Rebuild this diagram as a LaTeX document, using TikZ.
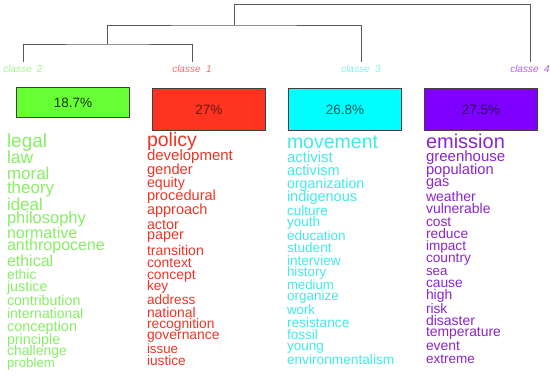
\documentclass[tikz,border=0pt]{standalone}
\usepackage{fontspec}
\setmainfont{Liberation Sans}
\newcommand\fsz[1]{\fontsize{#1}{#1}\selectfont}
\definecolor{wgreen}{HTML}{88EE66}
\definecolor{wred}{HTML}{EE3526}
\definecolor{wcyan}{HTML}{44EAEA}
\definecolor{wpurple}{HTML}{8A26CC}
\definecolor{lgreen}{HTML}{A8F090}
\definecolor{lred}{HTML}{F07070}
\definecolor{lcyan}{HTML}{80F0F0}
\definecolor{lpurple}{HTML}{B060EE}
\definecolor{bgreen}{HTML}{66FF33}
\definecolor{bred}{HTML}{FF3322}
\definecolor{bcyan}{HTML}{00FFFF}
\definecolor{bpurple}{HTML}{7F00FF}
\definecolor{dgreen}{HTML}{1A3310}
\definecolor{dred}{HTML}{661A10}
\definecolor{dcyan}{HTML}{0A5555}
\definecolor{dpurple}{HTML}{2A0A55}
\newcommand\Wrd[6]{\node[wrd,text=#5,font=\fsz{#4}] (#1) at (#2,#3) {#6};}
\begin{document}
\begin{tikzpicture}[x=1pt,y=-1pt,
  wrd/.style={anchor=mid west,inner sep=0pt,outer sep=0pt,text height=0.6em,text depth=0.1em},
  classlbl/.style={font=\fsz{10}\itshape,inner sep=0pt,outer sep=3.5pt,text height=7.2pt,text depth=0pt},
  dend/.style={draw=black!65,line width=0.8pt},
  pctbox/.style={draw=black!75,line width=0.8pt,anchor=north west,inner sep=0pt,minimum width=113pt,font=\fsz{13.5}}]
\useasboundingbox (0,0) rectangle (550,376);
\fill[white] (0,0) rectangle (550,376);
% class labels
\node[classlbl,text=lgreen] (l2) at (23,69) {classe\ \ 2};
\node[classlbl,text=lred] (l1) at (192,69) {classe\ \ 1};
\node[classlbl,text=lcyan] (l3) at (361,69) {classe\ \ 3};
\node[classlbl,text=lpurple] (l4) at (530,69) {classe\ \ 4};
% dendrogram
\coordinate (m21) at (107.5,44);
\coordinate (m213) at (234,25);
\coordinate (mtop) at (234,4);
\draw[dend] (l2.north) |- (m21) -| (l1.north);
\draw[dend] (m21) |- (m213) -| (l3.north);
\draw[dend] (m213) -- (mtop) -| (l4.north);
% boxes
\node[pctbox,fill=bgreen,minimum height=30pt,text=dgreen] (b2) at (16,87.4) {18.7\%};
\node[pctbox,fill=bred,minimum height=42pt,text=dred] (b1) at (152,88) {27\%};
\node[pctbox,fill=bcyan,minimum height=42pt,text=dcyan] (b3) at (288,88) {26.8\%};
\node[pctbox,fill=bpurple,minimum height=42pt,text=dpurple] (b4) at (424,88) {27.5\%};
% green column
\Wrd{g1}{7}{145}{19}{wgreen}{legal}
\Wrd{g2}{7}{161}{17.5}{wgreen}{law}
\Wrd{g3}{7}{176.7}{17}{wgreen}{moral}
\Wrd{g4}{7}{191}{17}{wgreen}{theory}
\Wrd{g5}{7}{207.7}{17}{wgreen}{ideal}
\Wrd{g6}{7}{220.7}{16.5}{wgreen}{philosophy}
\Wrd{g7}{7}{236}{16}{wgreen}{normative}
\Wrd{g8}{7}{248.3}{16}{wgreen}{anthropocene}
\Wrd{g9}{7}{264}{16}{wgreen}{ethical}
\Wrd{g10}{7}{277}{14}{wgreen}{ethic}
\Wrd{g11}{7}{289.3}{14.3}{wgreen}{justice}
\Wrd{g12}{7}{303.3}{14.2}{wgreen}{contribution}
\Wrd{g13}{7}{316}{14}{wgreen}{international}
\Wrd{g14}{7}{329.3}{14.5}{wgreen}{conception}
\Wrd{g15}{7}{341.7}{14.3}{wgreen}{principle}
\Wrd{g16}{7}{353.3}{14}{wgreen}{challenge}
\Wrd{g17}{7}{365}{13.3}{wgreen}{problem}
% red column
\Wrd{r1}{147}{144}{19.5}{wred}{policy}
\Wrd{r2}{147}{158.3}{15}{wred}{development}
\Wrd{r3}{147}{172.3}{14.7}{wred}{gender}
\Wrd{r4}{147}{185}{14.2}{wred}{equity}
\Wrd{r5}{147}{198.3}{14.6}{wred}{procedural}
\Wrd{r6}{147}{211.7}{14.5}{wred}{approach}
\Wrd{r7}{147}{226.7}{14.3}{wred}{actor}
\Wrd{r8}{147}{236.7}{14.4}{wred}{paper}
\Wrd{r9}{147}{252.7}{14}{wred}{transition}
\Wrd{r10}{147}{265}{13.9}{wred}{context}
\Wrd{r11}{147}{276.7}{13.9}{wred}{concept}
\Wrd{r12}{147}{288.3}{13.6}{wred}{key}
\Wrd{r13}{147}{302.3}{13.6}{wred}{address}
\Wrd{r14}{147}{315}{13.9}{wred}{national}
\Wrd{r15}{147}{325.7}{13.8}{wred}{recognition}
\Wrd{r16}{147}{337.3}{13.9}{wred}{governance}
\Wrd{r17}{147}{351}{13.3}{wred}{issue}
\Wrd{r18}{147}{362.7}{13.7}{wred}{iustice}
% cyan column
\Wrd{c1}{287}{146}{19.5}{wcyan}{movement}
\Wrd{c2}{287}{160}{15}{wcyan}{activist}
\Wrd{c3}{287}{173.3}{14.6}{wcyan}{activism}
\Wrd{c4}{287}{186}{14.2}{wcyan}{organization}
\Wrd{c5}{287}{199.3}{14.5}{wcyan}{indigenous}
\Wrd{c6}{287}{212.7}{13.6}{wcyan}{culture}
\Wrd{c7}{287}{224.3}{13.5}{wcyan}{youth}
\Wrd{c8}{287}{237.7}{13.5}{wcyan}{education}
\Wrd{c9}{287}{250}{13.6}{wcyan}{student}
\Wrd{c10}{287}{262.7}{13.6}{wcyan}{interview}
\Wrd{c11}{287}{274.3}{13.3}{wcyan}{history}
\Wrd{c12}{287}{286.7}{13.2}{wcyan}{medium}
\Wrd{c13}{287}{298.3}{13.5}{wcyan}{organize}
\Wrd{c14}{287}{311.7}{13.3}{wcyan}{work}
\Wrd{c15}{287}{325}{13.7}{wcyan}{resistance}
\Wrd{c16}{287}{336.7}{13.6}{wcyan}{fossil}
\Wrd{c17}{287}{348.3}{13.6}{wcyan}{young}
\Wrd{c18}{287}{362.3}{13.7}{wcyan}{environmentalism}
% purple column
\Wrd{p1}{426}{146}{20}{wpurple}{emission}
\Wrd{p2}{426}{159}{15}{wpurple}{greenhouse}
\Wrd{p3}{426}{172.3}{14.7}{wpurple}{population}
\Wrd{p4}{426}{184}{14.5}{wpurple}{gas}
\Wrd{p5}{426}{199.3}{14}{wpurple}{weather}
\Wrd{p6}{426}{211}{14}{wpurple}{vulnerable}
\Wrd{p7}{426}{224.3}{13.8}{wpurple}{cost}
\Wrd{p8}{426}{236}{13.8}{wpurple}{reduce}
\Wrd{p9}{426}{247.7}{13.6}{wpurple}{impact}
\Wrd{p10}{426}{260}{13.7}{wpurple}{country}
\Wrd{p11}{426}{273.3}{13.3}{wpurple}{sea}
\Wrd{p12}{426}{285}{13.8}{wpurple}{cause}
\Wrd{p13}{426}{296.7}{13.9}{wpurple}{high}
\Wrd{p14}{426}{310.7}{13.7}{wpurple}{risk}
\Wrd{p15}{426}{323.3}{14}{wpurple}{disaster}
\Wrd{p16}{426}{334}{13.9}{wpurple}{temperature}
\Wrd{p17}{426}{348.3}{13.9}{wpurple}{event}
\Wrd{p18}{426}{360.7}{13.5}{wpurple}{extreme}
\end{tikzpicture}
\end{document}
